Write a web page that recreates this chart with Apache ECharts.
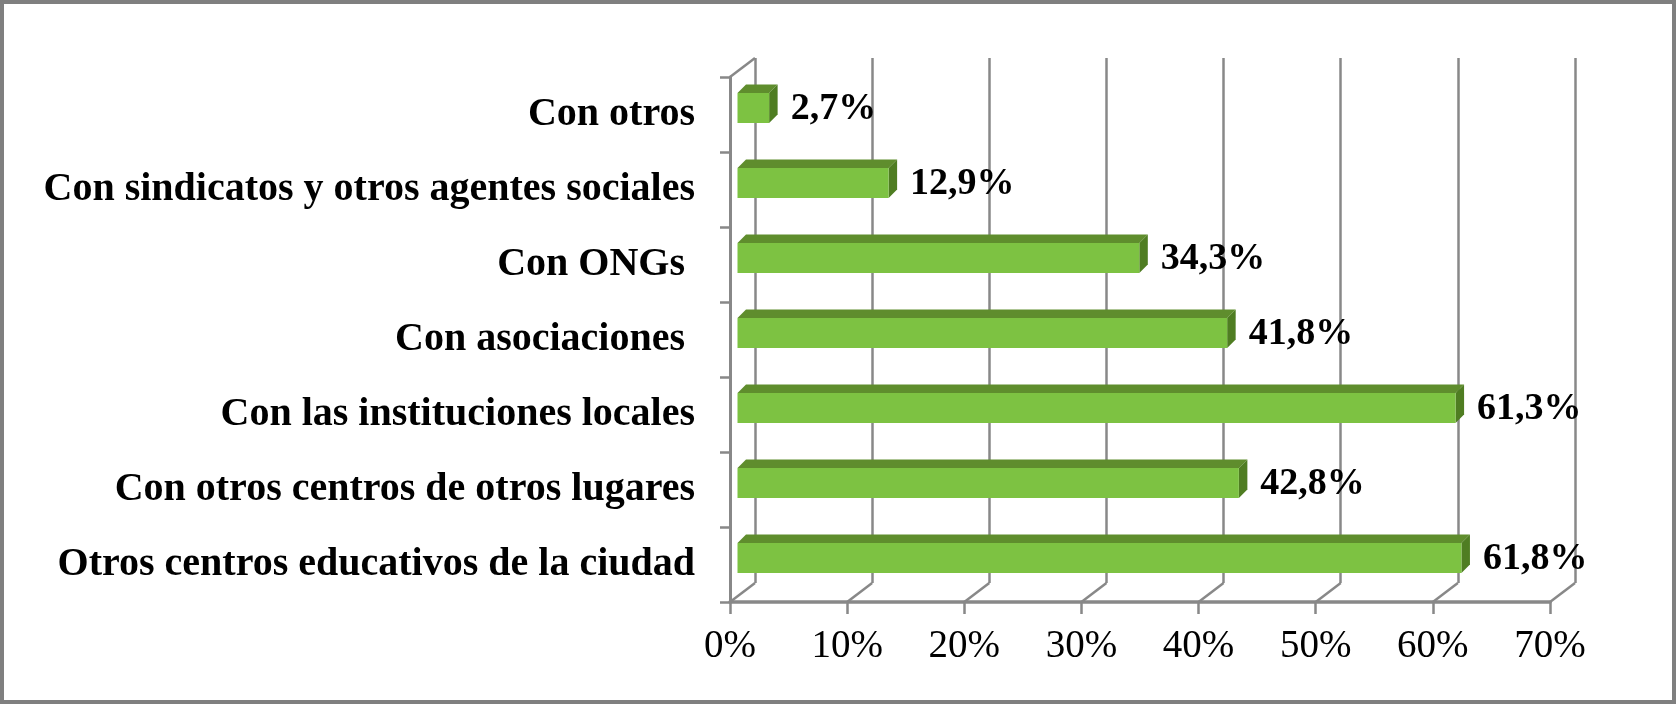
<!DOCTYPE html>
<html>
<head>
<meta charset="utf-8">
<script src="https://cdn.jsdelivr.net/npm/echarts@6/dist/echarts.min.js"></script>
<style>
html, body { margin: 0; padding: 0; background: #fff; }
#main { width: 1676px; height: 704px; }
</style>
</head>
<body>
<div id="main"></div>
<script>
var categories = ['Con otros', 'Con sindicatos y otros agentes sociales', 'Con ONGs ', 'Con asociaciones ',
  'Con las instituciones locales', 'Con otros centros de otros lugares', 'Otros centros educativos de la ciudad'];
var values = [0.027, 0.129, 0.343, 0.418, 0.613, 0.428, 0.618];
var tickValues = [0, 0.1, 0.2, 0.3, 0.4, 0.5, 0.6, 0.7];

var DX = 25, DY = -19;      // depth of the 3D box
var FX = 7.5, FY = -6.5;    // bar front face inside the box
var BD = 8.5;               // bar depth
var gray = '#888888';

function pct(v) { return (v * 100).toFixed(1).replace('.', ',') + '%'; }

var dom = document.getElementById('main');
var myChart = echarts.init(dom);

var option = {
  backgroundColor: '#fff',
  animation: false,
  graphic: [{
    type: 'rect', shape: { x: 2, y: 2, width: 1672, height: 700 },
    style: { fill: 'none', stroke: '#7f7f7f', lineWidth: 4 }, z: 100
  }],
  grid: [
    { left: 730, right: 126, top: 77, bottom: 102 },
    { left: 730 + DX, right: 126 - DX, top: 77 + DY, bottom: 102 - DY }
  ],
  xAxis: [{
    type: 'value', gridIndex: 0, min: 0, max: 0.7, interval: 0.1,
    axisLine: { show: true, lineStyle: { color: gray, width: 3.5 } },
    axisTick: { show: true, length: 12, lineStyle: { color: gray, width: 2.5 } },
    splitLine: { show: false },
    axisLabel: {
      margin: 25, color: '#000', fontSize: 39, fontFamily: 'Liberation Serif',
      formatter: function (v) { return Math.round(v * 100) + '%'; }
    }
  }, {
    type: 'value', gridIndex: 1, min: 0, max: 0.7, interval: 0.1,
    axisLine: { show: false }, axisTick: { show: false }, axisLabel: { show: false },
    splitLine: { show: true, lineStyle: { color: gray, width: 2.5 } }
  }],
  yAxis: [{
    type: 'category', gridIndex: 0, data: categories, inverse: true,
    axisLine: { show: true, lineStyle: { color: gray, width: 3 } },
    axisTick: { show: true, length: 10, lineStyle: { color: gray, width: 2.5 } },
    axisLabel: {
      margin: 35, color: '#000', fontSize: 40, fontWeight: 'bold', fontFamily: 'Liberation Serif',
      padding: [0, 0, 2, 0]
    }
  }, {
    type: 'category', gridIndex: 1, data: categories, inverse: true,
    axisLine: { show: false }, axisTick: { show: false }, axisLabel: { show: false }
  }],
  series: [{
    // floor diagonals and left wall top edge
    type: 'custom', xAxisIndex: 0, yAxisIndex: 0, z: 3,
    data: tickValues.map(function (v) { return [v]; }),
    renderItem: function (params, api) {
      var cs = params.coordSys;
      var x = api.coord([api.value(0), 0])[0];
      var yb = cs.y + cs.height;
      var children = [{
        type: 'line', shape: { x1: x, y1: yb, x2: x + DX, y2: yb + DY },
        style: { stroke: gray, lineWidth: 2.5 }
      }];
      if (params.dataIndex === 0) {
        children.push({
          type: 'line', shape: { x1: cs.x, y1: cs.y, x2: cs.x + DX, y2: cs.y + DY },
          style: { stroke: gray, lineWidth: 2.5 }
        });
      }
      return { type: 'group', children: children };
    }
  }, {
    type: 'custom', xAxisIndex: 0, yAxisIndex: 0, z: 5,
    data: values.map(function (v, i) { return [v, i]; }),
    renderItem: function (params, api) {
      var v = api.value(0), i = api.value(1);
      var s = api.coord([0, i]), e = api.coord([v, i]);
      var h = api.size([0, 1])[1] * 0.4;
      var x = s[0] + FX, y = s[1] + FY - h / 2, w = e[0] - s[0];
      return {
        type: 'group',
        children: [{
          type: 'polygon',
          shape: { points: [[x, y], [x + BD, y - BD], [x + w + BD, y - BD], [x + w, y]] },
          style: { fill: '#5f8d2d' }
        }, {
          type: 'polygon',
          shape: { points: [[x + w, y], [x + w + BD, y - BD], [x + w + BD, y + h - BD], [x + w, y + h]] },
          style: { fill: '#4f7d22' }
        }, {
          type: 'rect', shape: { x: x, y: y, width: w, height: h },
          style: { fill: '#7dc242' }
        }, {
          type: 'text',
          style: {
            text: pct(v), x: x + w + BD + 13, y: y + h / 2 + 1,
            verticalAlign: 'middle', align: 'left',
            font: 'bold 38px "Liberation Serif"', fill: '#000'
          }
        }]
      };
    }
  }]
};

myChart.setOption(option);
</script>
</body>
</html>
